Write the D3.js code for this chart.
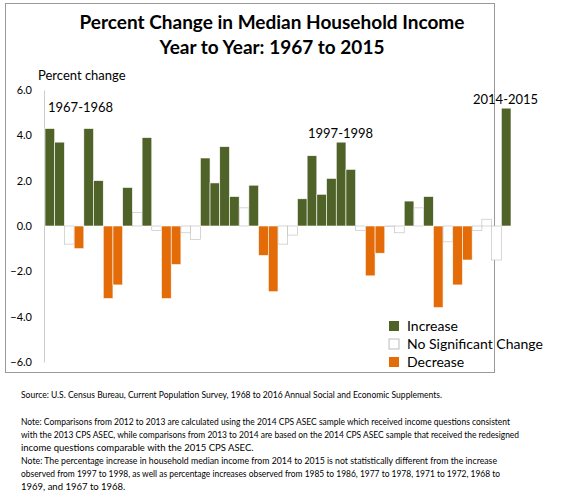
<!DOCTYPE html>
<html><head><meta charset="utf-8">
<script src="https://cdn.jsdelivr.net/npm/d3@7"></script>
<style>body{margin:0;background:#fff}text{font-family:Lato,"Open Sans",sans-serif}</style>
</head><body><svg id="c" width="580" height="495"></svg>
<script>
const periods = d3.range(1967, 2015).map(y => y + "-" + (y + 1));
const values = [4.3,3.7,-0.8,-1.0,4.3,2.0,-3.2,-2.6,1.7,0.6,3.9,-0.2,-3.2,-1.7,-0.3,-0.6,3.0,1.9,3.5,1.3,0.8,1.8,-1.3,-2.9,-0.8,-0.4,1.2,3.1,1.4,2.1,3.7,2.5,-0.2,-2.2,-1.2,0.0,-0.3,1.1,0.8,1.3,-3.6,-0.7,-2.6,-1.5,-0.2,0.3,-1.5,5.2];
const status = "IINDIIDDININ" + "DDNNIIIINIDD" + "NNIIIIIINDDN" + "NINIDNDDNNNI";
const yTicks = [6,4,2,0,-2,-4,-6];
const legendItems = [["I","Increase"],["N","No Significant Change"],["D","Decrease"]];
const callouts = [["1967-1968",48,112],["1997-1998",308,138],["2014-2015",473,104]];
const colors = {I:"#4f6228", D:"#e36c09", N:"#ffffff"};

const svg = d3.select("#c");
svg.append("rect").attr("x",5.5).attr("y",3.5).attr("width",489).attr("height",369).attr("fill","none").attr("stroke","#999").attr("stroke-width",1);
svg.append("text").attr("x",272).attr("y",29).attr("text-anchor","middle").attr("font-size",19).attr("font-weight","bold").text("Percent Change in Median Household Income");
svg.append("text").attr("x",272).attr("y",54).attr("text-anchor","middle").attr("font-size",19).attr("font-weight","bold").text("Year to Year: 1967 to 2015");
svg.append("text").attr("x",38).attr("y",80).attr("font-size",13).text("Percent change");

const x = d3.scaleBand().domain(periods).range([45,511]).padding(0);
const y = d3.scaleLinear().domain([-6,6]).range([362,90]);

const ax = svg.append("g").attr("transform","translate(44,0)").call(d3.axisLeft(y).tickValues(yTicks).tickFormat(d3.format(".1f")).tickSize(0).tickPadding(12));
ax.select(".domain").attr("stroke","#ccc");
ax.selectAll("text").attr("font-size",11).attr("font-family","Lato,sans-serif").attr("fill","#000");

svg.selectAll(".bar").data(values).join("rect")
 .attr("x",(d,i)=>x(periods[i]))
 .attr("width",x.bandwidth())
 .attr("y",d=>y(Math.max(0,d)))
 .attr("height",d=>Math.max(0.5,Math.abs(y(d)-y(0))))
 .attr("fill",(d,i)=>colors[status[i]])
 .attr("stroke",(d,i)=>status[i]==="N"?"#bbb":"#fff")
 .attr("stroke-width",0.6);

svg.selectAll(".co").data(callouts).join("text").attr("x",d=>d[1]).attr("y",d=>d[2]).attr("font-size",13).text(d=>d[0]);

const lg = svg.selectAll(".lg").data(legendItems).join("g").attr("transform",(d,i)=>`translate(389,${321+i*18})`);
lg.append("rect").attr("width",10).attr("height",10).attr("fill",d=>colors[d[0]]).attr("stroke",d=>d[0]==="N"?"#bbb":"none");
lg.append("text").attr("x",18).attr("y",10).attr("font-size",14).text(d=>d[1]);

const notes = [
 [21,398,"Source: U.S. Census Bureau, Current Population Survey, 1968 to 2016 Annual Social and Economic Supplements.",421],
 [21,425,"Note: Comparisons from 2012 to 2013 are calculated using the 2014 CPS ASEC sample which received income questions consistent",489],
 [21,438,"with the 2013 CPS ASEC, while comparisons from 2013 to 2014 are based on the 2014 CPS ASEC sample that received the redesigned",498],
 [21,451,"income questions comparable with the 2015 CPS ASEC.",null],
 [21,464,"Note: The percentage increase in household median income from 2014 to 2015 is not statistically different from the increase",476],
 [21,477,"observed from 1997 to 1998, as well as percentage increases observed from 1985 to 1986, 1977 to 1978, 1971 to 1972, 1968 to",479],
 [21,490,"1969, and 1967 to 1968.",null]
];
svg.selectAll(".nt").data(notes).join("text").attr("x",d=>d[0]).attr("y",d=>d[1]).attr("font-size",9.5).attr("textLength",d=>d[3]).attr("lengthAdjust","spacingAndGlyphs").text(d=>d[2]);
</script></body></html>
